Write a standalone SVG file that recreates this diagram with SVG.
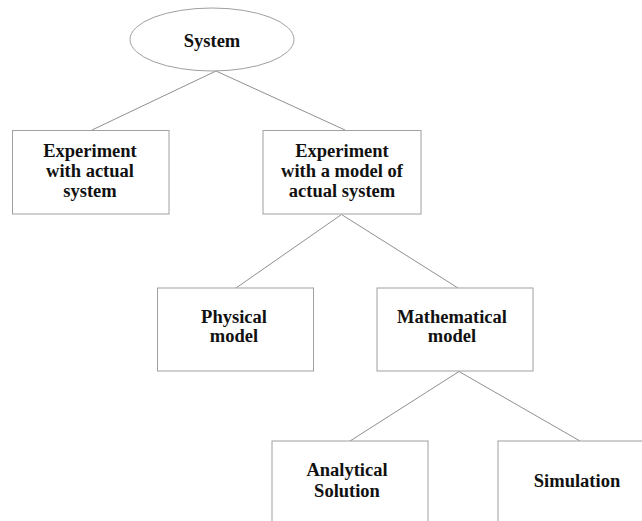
<svg xmlns="http://www.w3.org/2000/svg" width="642" height="521" viewBox="0 0 642 521">
<style>
.box{fill:#fff;stroke:#a0a0a0;stroke-width:1}
.ln{stroke:#909090;stroke-width:1;fill:none}
text{font-family:"Liberation Serif","Times New Roman",serif;font-weight:bold;font-size:18.5px;fill:#111;text-anchor:middle}
</style>
<rect width="642" height="521" fill="#fff"/>
<g id="connectors">
<line class="ln" x1="216" y1="71" x2="92" y2="130"/>
<line class="ln" x1="216" y1="71" x2="345" y2="130"/>
<line class="ln" x1="341.5" y1="214.5" x2="236" y2="288"/>
<line class="ln" x1="341.5" y1="214.5" x2="458" y2="288"/>
<line class="ln" x1="459" y1="371.5" x2="350" y2="441"/>
<line class="ln" x1="459" y1="371.5" x2="580" y2="441"/>
</g>
<g id="system">
<ellipse class="box" cx="212" cy="39.5" rx="82" ry="31.5"/>
<text x="212" y="47">System</text>
</g>
<g id="exp-actual">
<rect class="box" x="12.5" y="130.5" width="156.5" height="83.5"/>
<text x="90" y="157">Experiment</text>
<text x="90" y="177">with actual</text>
<text x="90" y="197">system</text>
</g>
<g id="exp-model">
<rect class="box" x="263" y="130.5" width="158" height="83.5"/>
<text x="342" y="157">Experiment</text>
<text x="342" y="177">with a model of</text>
<text x="342" y="197">actual system</text>
</g>
<g id="physical">
<rect class="box" x="157.5" y="288" width="156" height="83"/>
<text x="234" y="323">Physical</text>
<text x="234" y="342">model</text>
</g>
<g id="mathematical">
<rect class="box" x="377" y="288" width="156" height="83"/>
<text x="452" y="323">Mathematical</text>
<text x="452" y="342">model</text>
</g>
<g id="analytical">
<rect class="box" x="272" y="441" width="156" height="90"/>
<text x="347" y="476">Analytical</text>
<text x="347" y="497">Solution</text>
</g>
<g id="simulation">
<rect class="box" x="498" y="441" width="156" height="90"/>
<text x="577" y="487">Simulation</text>
</g>
</svg>
